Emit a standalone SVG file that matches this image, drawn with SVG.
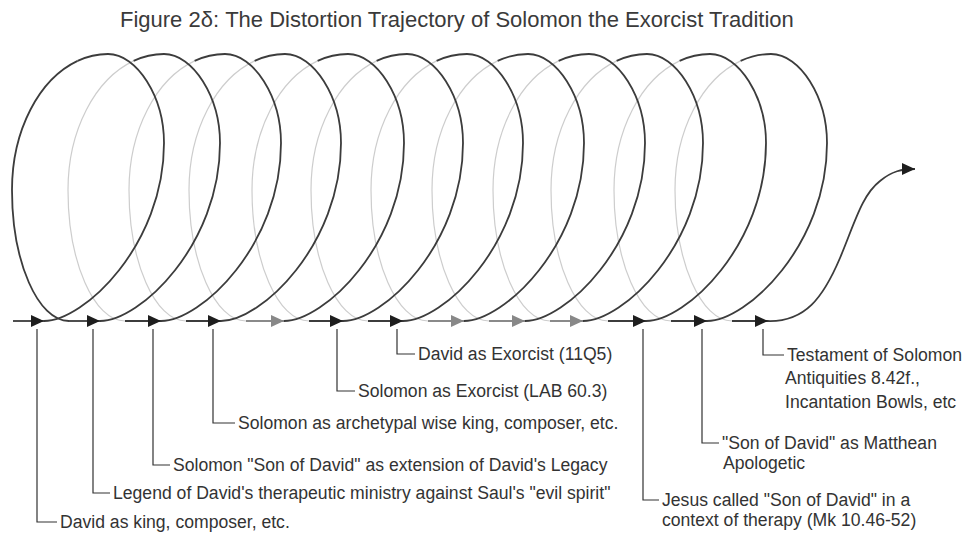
<svg xmlns="http://www.w3.org/2000/svg" xmlns:xlink="http://www.w3.org/1999/xlink" width="970" height="537" viewBox="0 0 970 537">
<style>
.front{fill:none;stroke:#3c3c3c;stroke-width:1.8}
.back{fill:none;stroke:#cdcdcd;stroke-width:1.2}
.app{fill:none;stroke:#3c3c3c;stroke-width:1.8}
.appg{fill:none;stroke:#8a8a8a;stroke-width:1.8}
.lead{fill:none;stroke:#333;stroke-width:1.2}
.lbl{font-family:"Liberation Sans",Arial,sans-serif;font-size:17.6px;fill:#333}
.ttl{font-family:"Liberation Sans",Arial,sans-serif;font-size:22px;fill:#3a3a3a}
</style>
<defs>
<marker id="ah" markerUnits="userSpaceOnUse" markerWidth="14" markerHeight="12" refX="13" refY="6" orient="auto" viewBox="0 0 14 12"><path d="M0,0 L13,6 L0,12 z" fill="#1e1e1e"/></marker>
<marker id="ahg" markerUnits="userSpaceOnUse" markerWidth="14" markerHeight="12" refX="13" refY="6" orient="auto" viewBox="0 0 14 12"><path d="M0,0 L13,6 L0,12 z" fill="#888"/></marker>
<path id="fr" d="M0,0 C40,0 120,-76 120,-178 C120,-224 93,-267 64,-267 C53.4,-267 43.2,-264.6 33.6,-260.1"/>
<path id="bk" d="M33.6,-260.1 C-4.8,-242 -32,-191 -32,-131 C-32,-59 -6,0 25,0"/>
</defs>
<text class="ttl" x="120" y="27">Figure 2δ: The Distortion Trajectory of Solomon the Exorcist Tradition</text>
<g id="coil">
<g id="coil-back" class="back">
<use href="#bk" transform="translate(100,321)"/>
<use href="#bk" transform="translate(161,321)"/>
<use href="#bk" transform="translate(221,321)"/>
<use href="#bk" transform="translate(284,321)"/>
<use href="#bk" transform="translate(343,321)"/>
<use href="#bk" transform="translate(403,321)"/>
<use href="#bk" transform="translate(464,321)"/>
<use href="#bk" transform="translate(525,321)"/>
<use href="#bk" transform="translate(583,321)"/>
<use href="#bk" transform="translate(646,321)"/>
<use href="#bk" transform="translate(707,321)"/>
</g>
<g id="coil-front" class="front">
<use href="#bk" transform="translate(44,321)"/>
<use href="#fr" transform="translate(44,321)"/>
<use href="#fr" transform="translate(100,321)"/>
<use href="#fr" transform="translate(161,321)"/>
<use href="#fr" transform="translate(221,321)"/>
<use href="#fr" transform="translate(284,321)"/>
<use href="#fr" transform="translate(343,321)"/>
<use href="#fr" transform="translate(403,321)"/>
<use href="#fr" transform="translate(464,321)"/>
<use href="#fr" transform="translate(525,321)"/>
<use href="#fr" transform="translate(583,321)"/>
<use href="#fr" transform="translate(646,321)"/>
<use href="#fr" transform="translate(707,321)"/>
<path d="M768,321 C805,322 823,298 840,258 C855,222 862,195 880,181 C892,171 902,169 915,169" marker-end="url(#ah)"/>
</g>
<g id="coil-arrows">
<path class="app" d="M13,321 H44" marker-end="url(#ah)"/>
<path class="app" d="M69,321 H100" marker-end="url(#ah)"/>
<path class="app" d="M125,321 H161" marker-end="url(#ah)"/>
<path class="app" d="M186,321 H221" marker-end="url(#ah)"/>
<path class="appg" d="M246,321 H284" marker-end="url(#ahg)"/>
<path class="app" d="M309,321 H343" marker-end="url(#ah)"/>
<path class="app" d="M368,321 H403" marker-end="url(#ah)"/>
<path class="appg" d="M428,321 H464" marker-end="url(#ahg)"/>
<path class="appg" d="M489,321 H525" marker-end="url(#ahg)"/>
<path class="appg" d="M550,321 H583" marker-end="url(#ahg)"/>
<path class="app" d="M608,321 H646" marker-end="url(#ah)"/>
<path class="app" d="M671,321 H707" marker-end="url(#ah)"/>
<path class="app" d="M732,321 H768" marker-end="url(#ah)"/>
</g>
</g>
<g id="connectors" class="lead">
<path d="M37,329 V522 H57"/>
<path d="M93,329 V493 H110"/>
<path d="M153,329 V465 H170"/>
<path d="M213,329 V423 H235"/>
<path d="M337,329 V391 H355"/>
<path d="M397,329 V354 H415"/>
<path d="M643,329 V500 H659"/>
<path d="M702,329 V443 H719"/>
<path d="M763,329 V355 H784"/>
</g>
<g id="label-david-king"><text class="lbl" x="60" y="528">David as king, composer, etc.</text></g>
<g id="label-legend"><text class="lbl" x="113" y="499">Legend of David's therapeutic ministry against Saul's "evil spirit"</text></g>
<g id="label-solomon-son"><text class="lbl" x="173" y="471">Solomon "Son of David" as extension of David's Legacy</text></g>
<g id="label-solomon-wise"><text class="lbl" x="238" y="429">Solomon as archetypal wise king, composer, etc.</text></g>
<g id="label-solomon-exorcist"><text class="lbl" x="358" y="397">Solomon as Exorcist (LAB 60.3)</text></g>
<g id="label-david-exorcist"><text class="lbl" x="418" y="360">David as Exorcist (11Q5)</text></g>
<g id="label-jesus"><text class="lbl" x="662" y="506">Jesus called "Son of David" in a</text><text class="lbl" x="662" y="526">context of therapy (Mk 10.46-52)</text></g>
<g id="label-matthean"><text class="lbl" x="722" y="449">"Son of David" as Matthean</text><text class="lbl" x="723" y="469">Apologetic</text></g>
<g id="label-testament"><text class="lbl" x="787" y="361">Testament of Solomon</text><text class="lbl" x="785" y="384">Antiquities 8.42f.,</text><text class="lbl" x="785" y="408">Incantation Bowls, etc</text></g>
</svg>
